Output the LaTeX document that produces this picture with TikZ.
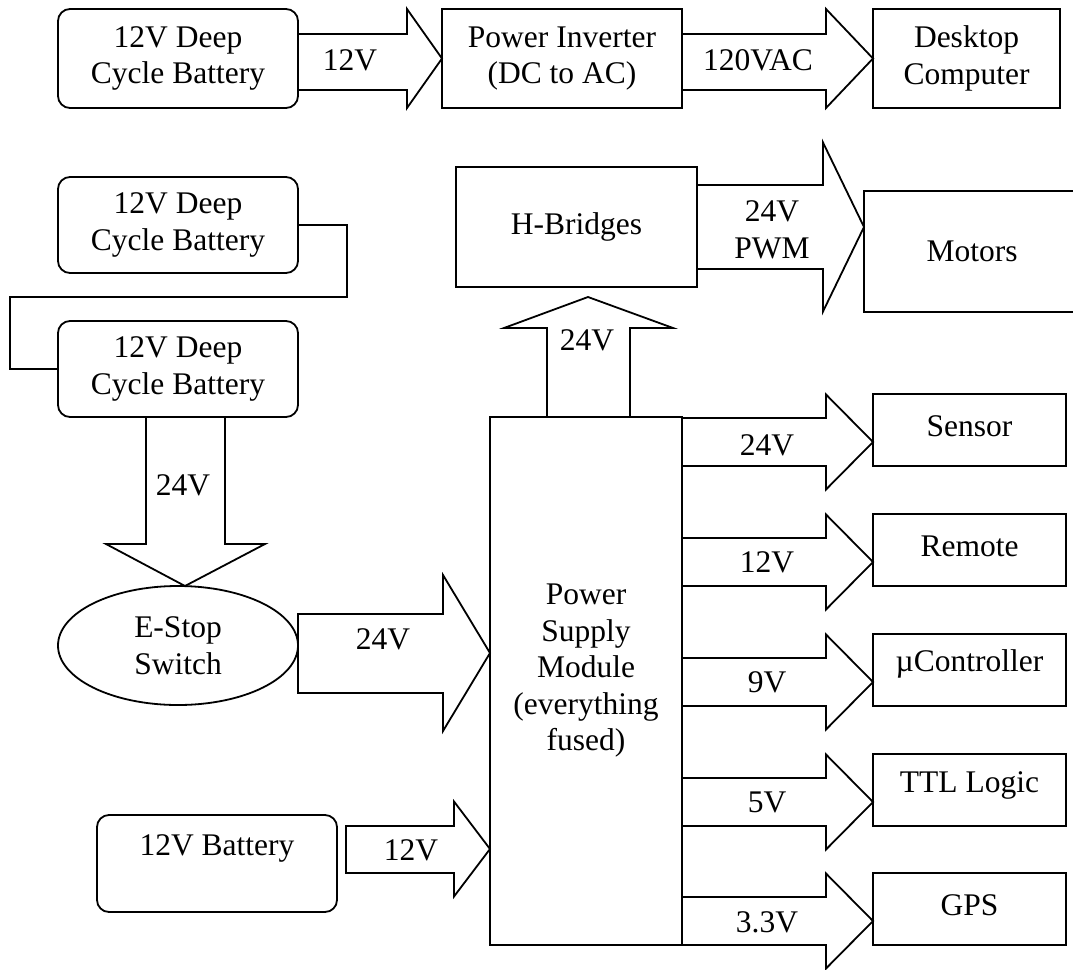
\documentclass[tikz,border=0pt]{standalone}
\usepackage{fontspec}
\setmainfont{Liberation Serif}
\usetikzlibrary{shapes.geometric}
\tikzset{
  txt/.style={font=\fontsize{31.5}{36.5}\selectfont},
  base/.style={draw, line width=1.8pt, inner sep=0pt, align=center, txt},
  box/.style={base, rectangle},
  rbox/.style={base, rectangle, rounded corners=12pt},
  oval/.style={base, ellipse},
  fat/.style={draw, line width=1.8pt, line join=miter},
  wire/.style={draw, line width=1.8pt},
  lbl/.style={inner sep=0pt, align=center, txt},
  outbox/.style={box, minimum width=193pt, minimum height=72pt},
}
% #1 x start, #2 x head base, #3 x tip, #4 y tip, #5 body top, #6 body bottom, #7 head half height
\newcommand{\fatR}[7]{\draw[fat] (#1,#5) -- (#2,#5) -- (#2,#4-#7) -- (#3,#4) -- (#2,#4+#7) -- (#2,#6) -- (#1,#6) -- cycle;}
\begin{document}
\begin{tikzpicture}[x=1pt,y=-1pt]
\useasboundingbox (0,0) rectangle (1073,969);

% top row
\node[rbox, minimum width=240pt, minimum height=99pt] (bat1) at (178,58.5) {12V Deep\\Cycle Battery};
\node[box, minimum width=240pt, minimum height=99pt] (inv) at (562,58.5) {Power Inverter\\(DC to AC)};
\node[box, minimum width=187pt, minimum height=99pt] (desk) at (966.5,58.5) {Desktop\\Computer};
\fatR{298}{407}{442}{58.5}{34}{90}{49.5}
\fatR{682}{826}{873}{58.5}{34}{90}{49.5}
\node[lbl] (l12top) at (350,60) {12V};
\node[lbl] (l120) at (758,60) {120VAC};

% batteries in series
\node[rbox, minimum width=240pt, minimum height=96pt] (bat2) at (178,225) {12V Deep\\Cycle Battery};
\node[rbox, minimum width=240pt, minimum height=96pt] (bat3) at (178,369) {12V Deep\\Cycle Battery};
\draw[wire] (bat2.east) -- (347,225) -- (347,297) -- (10,297) -- (10,369) -- (bat3.west);

% down arrow to E-stop
\node[oval, minimum width=240pt, minimum height=119pt] (estop) at (178,645.5) {E-Stop\\Switch};
\draw[fat] (146,417) -- (146,544) -- (106,544) -- (185,586) -- (265,544) -- (225,544) -- (225,417) -- cycle;
\node[lbl] (l24down) at (183,485) {24V};

% power supply module
\node[box, minimum width=192pt, minimum height=528pt] (psm) at (586,681) {};
\node[lbl] (psmtxt) at (586,671) {Power\\Supply\\Module\\(everything\\fused)};

\fatR{298}{443}{490}{653}{614}{693}{78}
\node[lbl] (l24es) at (383,639) {24V};

% 12V battery
\node[rbox, minimum width=240pt, minimum height=97pt] (bat12) at (217,863.5) {12V Battery\\\mbox{}};
\fatR{346}{454}{490}{849}{826}{873}{47.5}
\node[lbl] (l12b) at (411,850) {12V};

% H-bridges and motors
\node[box, minimum width=241pt, minimum height=120pt] (hbr) at (576.5,227) {H-Bridges};
\node[box, minimum width=216pt, minimum height=121pt] (mot) at (972,251.5) {Motors};
\draw[fat] (547,417) -- (547,328) -- (504,328) -- (588,297) -- (673,328) -- (630,328) -- (630,417) -- cycle;
\node[lbl] (l24up) at (587,340) {24V};
\fatR{697}{823}{864}{227}{185}{269}{84.5}
\node[lbl] (lpwm) at (772,230) {24V\\PWM};

% outputs
\node[outbox, label={[lbl,yshift=4pt,name=tsen]center:Sensor}] (sen) at (969.5,430) {};
\node[outbox, label={[lbl,yshift=4pt,name=trem]center:Remote}] (rem) at (969.5,550) {};
\node[outbox, label={[lbl,yshift=6pt,name=tmc]center:µController}] (mc) at (969.5,670) {};
\node[outbox, label={[lbl,yshift=5pt,name=tttl]center:TTL Logic}] (ttl) at (969.5,790) {};
\node[outbox, label={[lbl,yshift=4pt,name=tgps]center:GPS}] (gps) at (969.5,909) {};
\fatR{682}{826}{873}{442}{418}{466}{47.5}
\fatR{682}{826}{873}{562}{538}{586}{47.5}
\fatR{682}{826}{873}{682}{658}{706}{47.5}
\fatR{682}{826}{873}{802}{778}{826}{47.5}
\fatR{682}{826}{873}{921}{897}{945}{47.5}
\node[lbl] (o1) at (767,445) {24V};
\node[lbl] (o2) at (767,562) {12V};
\node[lbl] (o3) at (767,682) {9V};
\node[lbl] (o4) at (767,802) {5V};
\node[lbl] (o5) at (767,922) {3.3V};
\end{tikzpicture}
\end{document}
